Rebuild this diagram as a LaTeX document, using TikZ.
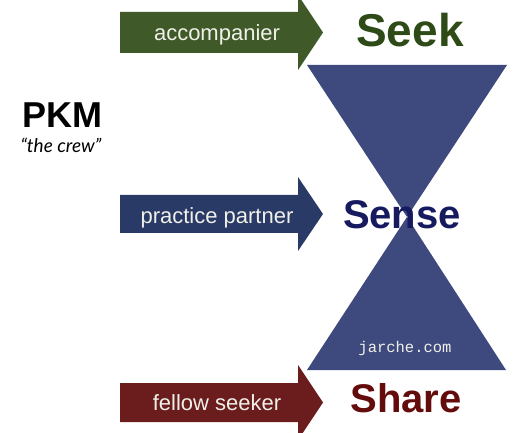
\documentclass[tikz,border=0pt]{standalone}
\usepackage{fontspec}
\setmainfont{Liberation Sans}
\newfontfamily\crewfont{Lato}
\newfontfamily\typefont{Liberation Mono}
\definecolor{arrgreen}{HTML}{3F5A28}
\definecolor{arrnavy}{HTML}{2A3A66}
\definecolor{arrred}{HTML}{6B1D1D}
\definecolor{hourglass}{HTML}{3E4A7D}
\definecolor{seekcol}{HTML}{2E4A16}
\definecolor{sensecol}{HTML}{151B5E}
\definecolor{sharecol}{HTML}{640B0B}
\definecolor{lblwhite}{HTML}{F0F0EA}
\tikzset{
  lbl/.style={text=lblwhite, font=\fontsize{22}{26}\selectfont, anchor=base, inner sep=0pt},
  stage/.style={font=\bfseries\fontsize{40}{48}\selectfont, anchor=base, inner sep=0pt},
}
\begin{document}
\begin{tikzpicture}[x=1pt,y=-1pt]
\useasboundingbox (0,0) rectangle (520,433);
% hourglass
\fill[hourglass] (307,65) -- (507,65) -- (407,217) -- (506,370) -- (307,370) -- (407,217) -- cycle;
% arrows
\fill[arrgreen] (120,12) -- (298,12) -- (298,-5) -- (323,32.5) -- (298,70) -- (298,53) -- (120,53) -- cycle;
\fill[arrnavy] (120,195) -- (298,195) -- (298,177) -- (323,214) -- (298,251) -- (298,233) -- (120,233) -- cycle;
\fill[arrred] (120,383) -- (298,383) -- (298,365) -- (323,402.5) -- (298,440) -- (298,422) -- (120,422) -- cycle;
% labels
\node[lbl] (l1) at (217,41) {accompanier};
\node[lbl] (l2) at (217,224) {practice partner};
\node[lbl] (l3) at (217,410) {fellow seeker};
% stages
\node[stage, text=seekcol, font=\bfseries\fontsize{46}{52}\selectfont] (seek) at (410,47) {Seek};
\node[stage, text=sensecol] (sense) at (402,229) {Sense};
\node[stage, text=sharecol] (share) at (406,412) {Share};
% PKM
\node[anchor=base, inner sep=0pt, font=\bfseries\fontsize{36}{42}\selectfont] (pkm) at (62,128) {PKM};
\node[anchor=base, inner sep=0pt, font=\crewfont\itshape\fontsize{19}{22}\selectfont] (crew) at (61,153) {“the crew”};
% credit
\node[anchor=base, inner sep=0pt, text=lblwhite, font=\typefont\fontsize{15.5}{18}\selectfont] (credit) at (405,352) {jarche.com};
\end{tikzpicture}
\end{document}
